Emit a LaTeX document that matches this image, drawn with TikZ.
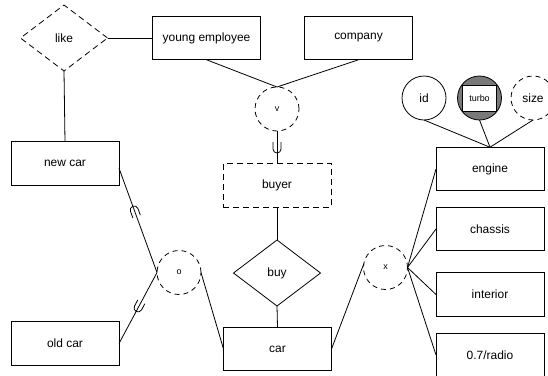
\documentclass[tikz,border=0pt]{standalone}
\usepackage{fontspec}
\setmainfont{Liberation Sans}
\usetikzlibrary{shapes.geometric,decorations.markings}
\begin{document}
\begin{tikzpicture}[x=1bp,y=-1bp,
  line width=0.8bp,
  every node/.style={font=\fontsize{12}{14}\selectfont, inner sep=0pt, outer sep=0pt},
  ent/.style={draw, rectangle, minimum width=108bp, minimum height=43.5bp},
  rel/.style={draw, diamond, minimum width=87bp, minimum height=66bp},
  dcirc/.style={draw, circle, dashed, dash pattern=on 5bp off 4bp, minimum size=44bp, font=\fontsize{9}{10}\selectfont},
  attr/.style={draw, circle, minimum size=44bp},
  dsh/.style={dashed, dash pattern=on 6bp off 4bp},
  subsetmark/.style={postaction={decorate, decoration={markings, mark=at position #1 with {\draw[solid] (-7,4) -- (0,4) arc (90:-90:4) -- (-7,-4);}}}}
]
\useasboundingbox (0,0) rectangle (548,375);
% nodes
\node[rel, dsh] (like) at (64,38) {like};
\node[ent] (ye) at (206.5,38) {young employee};
\node[ent] (company) at (358.5,38) {company};
\node[dcirc] (v) at (277,109) {v};
\node[ent, dsh] (buyer) at (277,185.5) {buyer};
\node[rel] (buy) at (277,273) {buy};
\node[ent] (car) at (277.5,349) {car};
\node[ent] (newcar) at (65,163.5) {new car};
\node[ent] (oldcar) at (65,343.5) {old car};
\node[dcirc] (o) at (179,272.5) {o};
\node[dcirc] (x) at (385.5,267.5) {x};
\node[ent] (engine) at (490,169) {engine};
\node[ent] (chassis) at (490,229) {chassis};
\node[ent] (interior) at (490,294.5) {interior};
\node[ent] (radio) at (490,355) {0.7/radio};
\node[attr] (id) at (424,98) {id};
\node[attr, fill=gray!95!black] (turbo) at (479.5,98) {};
\node[draw, rectangle, fill=white, minimum width=34bp, minimum height=26bp, font=\fontsize{9}{10}\selectfont] (turbobox) at (479.5,98) {turbo};
\node[attr, dashed, dash pattern=on 5bp off 4bp] (size) at (533,98) {size};
% connectors
\draw (like.east) -- (ye.west);
\draw (like.south) -- (newcar.north);
\draw (ye.south) -- (v.north);
\draw (company.south) -- (v.north);
\draw[subsetmark=0.55] (v.south) -- (buyer.north);
\draw (buyer.south) -- (buy.north);
\draw (buy.south) -- (car.north);
\draw[subsetmark=0.6] (o.west) -- (newcar.-5);
\draw[subsetmark=0.5] (o.west) -- (oldcar.east);
\draw (o.east) -- (car.west);
\draw (car.east) -- (x.170);
\draw (x.east) -- (engine.west);
\draw (x.east) -- (chassis.west);
\draw (x.east) -- (interior.west);
\draw (x.east) -- (radio.west);
\draw (id.south) -- (engine.north);
\draw (turbo.south) -- (engine.north);
\draw (size.south) -- (engine.north);
\end{tikzpicture}
\end{document}
